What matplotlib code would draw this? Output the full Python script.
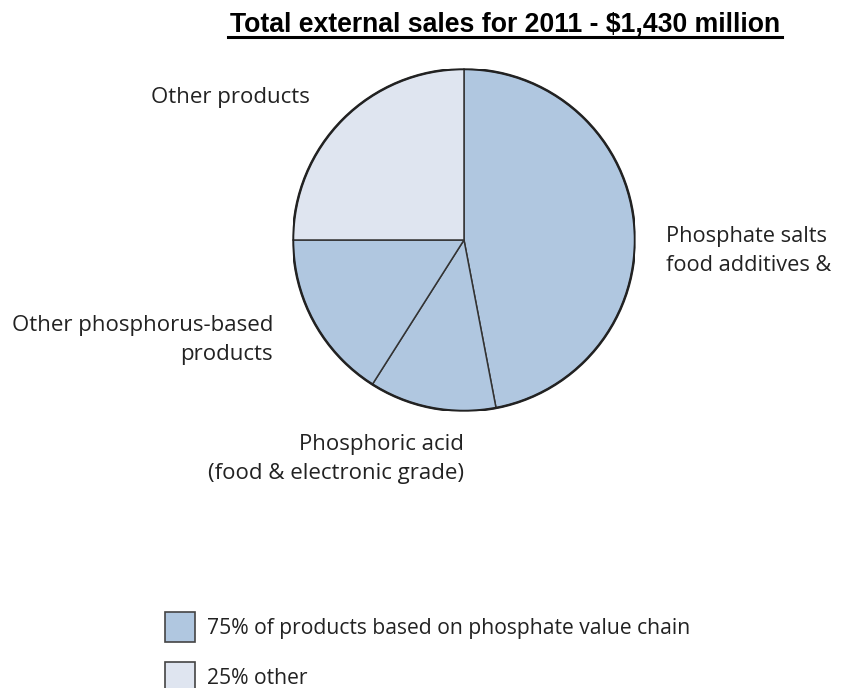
import matplotlib.pyplot as plt
from matplotlib.patches import Patch

# sales split for 2011, clockwise from 12 o'clock
segments = ["Phosphate salts\nfood additives &",
            "Phosphoric acid\n(food & electronic grade)",
            "Other phosphorus-based\nproducts",
            "Other products"]
shares = [47, 12, 16, 25]
value_chain = [True, True, True, False]

legend_labels = ["75% of products based on phosphate value chain", "25% other"]
title = "Total external sales for 2011 - $1,430 million"

dark = "#B0C7E0"
light = "#DFE5F0"
txt = "#222222"

W, H = 842, 688
fig = plt.figure(figsize=(W / 100, H / 100), dpi=100)

# pie centre and radius in pixels
cx, cy, r = 464, 240, 171
ax = fig.add_axes([(cx - r) / W, 1 - (cy + r) / H, 2 * r / W, 2 * r / H])
colors = [dark if v else light for v in value_chain]
wedges, _ = ax.pie(shares, colors=colors, startangle=90, counterclock=False,
                   radius=1, wedgeprops=dict(edgecolor="#333333", linewidth=1.1))
# heavier outer rim
rim = plt.Circle((0, 0), 1, fill=False, edgecolor="#222222", linewidth=1.8)
ax.add_patch(rim)
ax.set_xlim(-1, 1)
ax.set_ylim(-1, 1)
ax.set_aspect("equal")
ax.axis("off")


def px(x, y):
    return (x - cx) / r, (cy - y) / r


fs = 16
fam = ["Open Sans", "DejaVu Sans"]
kw = dict(fontsize=fs, family=fam, color=txt, linespacing=1.45, clip_on=False)
ax.text(*px(666, 251), segments[0], ha="left", va="center",
        fontsize=15.7, **{k: v for k, v in kw.items() if k != "fontsize"})
ax.text(*px(464, 459), segments[1], ha="right", va="center",
        multialignment="right", **kw)
ax.text(*px(273, 340), segments[2], ha="right", va="center",
        multialignment="right", **kw)
ax.text(*px(310, 98), segments[3], ha="right", va="center", **kw)

fig.text(505 / W, 1 - 32 / H, title, ha="center", va="baseline", fontsize=19.2,
         fontweight="bold", family="Liberation Sans")
fig.add_artist(plt.Line2D([228 / W, 782 / W], [1 - 37 / H, 1 - 37 / H],
                          color="black", linewidth=2.2))

handles = [Patch(facecolor=dark, edgecolor="#444444", linewidth=1.2),
           Patch(facecolor=light, edgecolor="#444444", linewidth=1.2)]
leg = fig.legend(handles, legend_labels, loc="upper left",
                 bbox_to_anchor=(165 / W, 1 - 612 / H), frameon=False,
                 prop={"family": fam, "size": 15.2}, handlelength=1.42,
                 handleheight=1.81, handletextpad=0.57, labelspacing=0.95,
                 borderpad=0, borderaxespad=0)
for t in leg.get_texts():
    t.set_color(txt)

fig.savefig("out.png", dpi=100)
